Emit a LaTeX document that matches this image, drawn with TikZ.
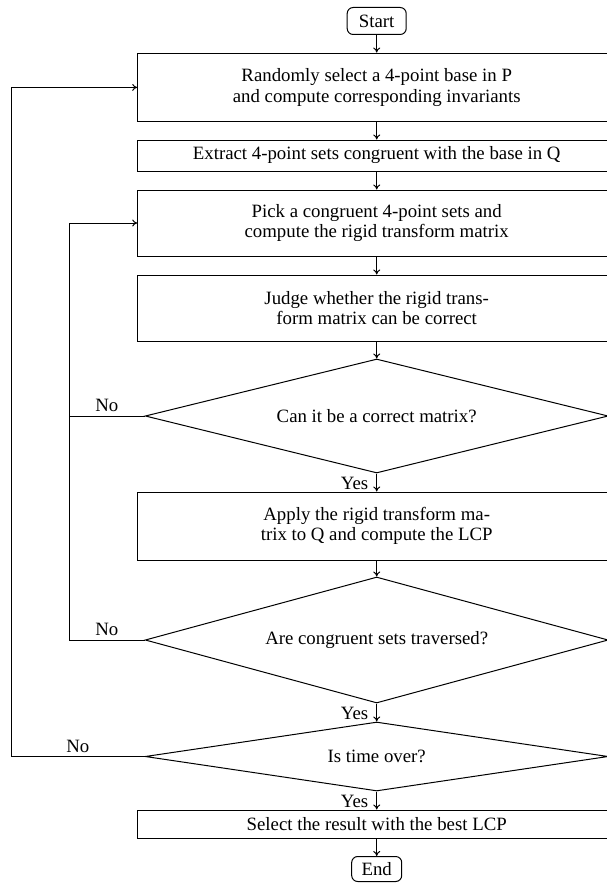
\documentclass[tikz,border=0pt]{standalone}
\usepackage{fontspec}
\setmainfont{Liberation Serif}
\usetikzlibrary{shapes.geometric, arrows.meta}

\begin{document}
\begin{tikzpicture}[x=1pt, y=-1pt, line width=1pt,
		every node/.style={font=\fontsize{18.8}{20.4}\selectfont},
		process/.style={draw, rectangle, minimum width=478pt, align=center, inner sep=0pt},
		decision/.style={draw, diamond, aspect=6, inner sep=0pt, minimum width=463pt},
		terminal/.style={draw, rectangle, rounded corners=6pt, inner sep=0pt},
		arr/.style={-{To[length=5pt, width=7pt]}}]
		\clip (0,0) rectangle (607,883);
		\coordinate (innerloop) at (69,0);
		\coordinate (outerloop) at (11,0);
		\node[terminal, minimum width=59pt, minimum height=27pt] (start) at (376.7,21) {Start};
		\node[process, minimum height=68.7pt] (base) at (376.7,87.4) {Randomly select a 4-point base in P\\and compute corresponding invariants};
		\node[process, minimum height=31pt] (extract) at (376.7,155.5) {Extract 4-point sets congruent with the base in Q};
		\node[process, minimum height=66pt] (pick) at (376.7,223) {Pick a congruent 4-point sets and\\compute the rigid transform matrix};
		\node[process, minimum height=66pt] (judge) at (376.7,308) {Judge whether the rigid trans-\\form matrix can be correct};
		\node[decision, minimum height=114pt] (correct) at (376.7,416) {Can it be a correct matrix?};
		\node[process, minimum height=68pt] (apply) at (376.7,526) {Apply the rigid transform ma-\\trix to Q and compute the LCP};
		\node[decision, minimum height=126pt] (traversed) at (376.7,640) {Are congruent sets traversed?};
		\node[decision, minimum height=69pt] (timeover) at (376.7,756.5) {Is time over?};
		\node[process, minimum height=28pt] (select) at (376.7,824) {Select the result with the best LCP};
		\node[terminal, minimum width=50pt, minimum height=25pt] (end) at (376.7,869) {End};
		% main flow
		\draw[arr] (start) -- (base);
		\draw[arr] (base) -- (extract);
		\draw[arr] (extract) -- (pick);
		\draw[arr] (pick) -- (judge);
		\draw[arr] (judge) -- (correct);
		\draw[arr] (correct) -- node[left=8pt, pos=0.55, inner sep=0pt] {Yes} (apply);
		\draw[arr] (apply) -- (traversed);
		\draw[arr] (traversed) -- node[left=8pt, pos=0.55, inner sep=0pt] {Yes} (timeover);
		\draw[arr] (timeover) -- node[left=8pt, pos=0.55, inner sep=0pt] {Yes} (select);
		\draw[arr] (select) -- (end);
		% loops back
		\draw[arr] (correct.west) -- node[above] {No} (correct.west -| innerloop) |- (pick.west);
		\draw (traversed.west) -- node[above] {No} (traversed.west -| innerloop) -- (correct.west -| innerloop);
		\draw[arr] (timeover.west) -- node[above] {No} (timeover.west -| outerloop) |- (base.west);
	\end{tikzpicture}
\end{document}
